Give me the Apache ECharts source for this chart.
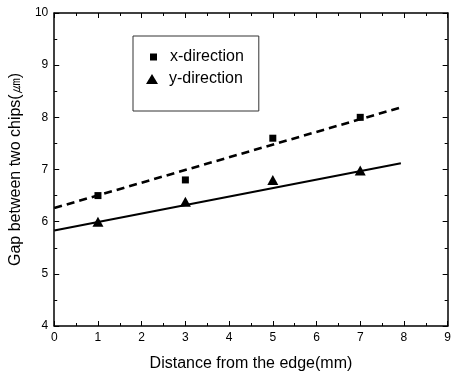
<!DOCTYPE html>
<html>
<head>
<meta charset="utf-8">
<script src="https://cdn.jsdelivr.net/npm/echarts@6/dist/echarts.min.js"></script>
<style>html,body{margin:0;padding:0;background:#fff}#c{width:454px;height:377px}</style>
</head>
<body>
<div id="c"></div>
<script>
// Data
const distances = [1, 3, 5, 7];
const xDirection = [6.5, 6.8, 7.6, 8.0];
const yDirection = [6.0, 6.38, 6.8, 6.98];
// Fitted lines (endpoints)
const xFit = [[0, 6.26], [7.93, 8.19]];
const yFit = [[0, 5.83], [7.93, 7.12]];
const xTicks = [0, 1, 2, 3, 4, 5, 6, 7, 8, 9];
const yTicks = [4, 5, 6, 7, 8, 9, 10];

const FONT = '"Liberation Sans", Arial, sans-serif';
const chart = echarts.init(document.getElementById('c'));

const axisCommon = {
  axisLine: { show: true, onZero: false, lineStyle: { color: '#000', width: 1.5 } },
  axisTick: { show: true, inside: true, length: 5, lineStyle: { color: '#000', width: 1 } },
  minorTick: { show: true, splitNumber: 2, length: 3, lineStyle: { color: '#000', width: 1 } },
  splitLine: { show: false }
};

chart.setOption({
  animation: false,
  backgroundColor: '#fff',
  grid: { left: 53, right: 2, top: 13, bottom: 50 },
  xAxis: [
    Object.assign({}, axisCommon, {
      type: 'value', min: xTicks[0], max: xTicks[xTicks.length - 1], interval: 1,
      name: 'Distance from the edge(mm)', nameLocation: 'middle', nameGap: 30,
      nameTextStyle: { fontFamily: FONT, fontSize: 16, color: '#000' },
      axisLabel: { fontFamily: FONT, fontSize: 12, color: '#000', margin: 6 }
    }),
    Object.assign({}, axisCommon, {
      type: 'value', position: 'top', min: xTicks[0], max: xTicks[xTicks.length - 1], interval: 1,
      axisLabel: { show: false }
    })
  ],
  yAxis: [
    Object.assign({}, axisCommon, {
      type: 'value', min: yTicks[0], max: yTicks[yTicks.length - 1], interval: 1,
      name: 'Gap between two chips(㎛)', nameLocation: 'middle', nameGap: 29,
      nameTextStyle: { fontFamily: FONT, fontSize: 16, color: '#000' },
      axisLabel: { fontFamily: FONT, fontSize: 12, color: '#000', margin: 6 }
    }),
    Object.assign({}, axisCommon, {
      type: 'value', position: 'right', min: yTicks[0], max: yTicks[yTicks.length - 1], interval: 1,
      axisLabel: { show: false }
    })
  ],
  legend: [
    {
      data: [{ name: 'x-direction', icon: 'rect' }],
      left: 133, top: 36, orient: 'vertical',
      itemWidth: 7, itemHeight: 7,
      padding: [13, 15, 46, 17],
      borderColor: '#333', borderWidth: 1,
      textStyle: { fontFamily: FONT, fontSize: 16, color: '#000', padding: [0, 0, 0, 8] }
    },
    {
      data: [{ name: 'y-direction', icon: 'triangle' }],
      left: 146, top: 71, orient: 'vertical',
      itemWidth: 12, itemHeight: 10,
      padding: 0,
      textStyle: { fontFamily: FONT, fontSize: 16, color: '#000', padding: [0, 0, 0, 6] }
    }
  ],
  series: [
    {
      name: 'x-fit', type: 'line', data: xFit, symbol: 'none', silent: true,
      lineStyle: { color: '#000', width: 2.6, type: [8, 5] }
    },
    {
      name: 'y-fit', type: 'line', data: yFit, symbol: 'none', silent: true,
      lineStyle: { color: '#000', width: 2.2 }
    },
    {
      name: 'x-direction', type: 'scatter', symbol: 'rect', symbolSize: [7, 7],
      data: distances.map((d, i) => [d, xDirection[i]]),
      itemStyle: { color: '#000', opacity: 1 }, z: 5
    },
    {
      name: 'y-direction', type: 'scatter', symbol: 'triangle', symbolSize: [11, 10],
      data: distances.map((d, i) => [d, yDirection[i]]),
      itemStyle: { color: '#000', opacity: 1 }, z: 5
    }
  ]
});
</script>
</body>
</html>
